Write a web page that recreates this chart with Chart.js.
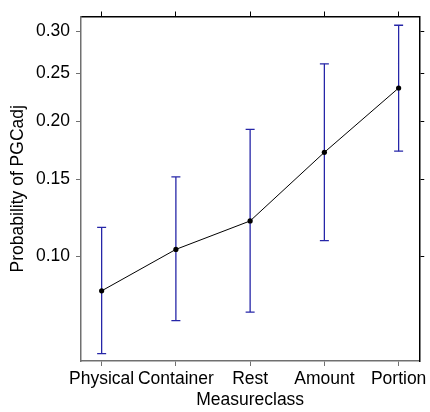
<!DOCTYPE html>
<html>
<head>
<meta charset="utf-8">
<script src="https://cdn.jsdelivr.net/npm/chart.js"></script>
<style>
  html, body { margin: 0; padding: 0; background: #fff; }
  #wrap { width: 430px; height: 412px; }
</style>
</head>
<body>
<div id="wrap"><canvas id="effectChart" width="430" height="412"></canvas></div>
<script>
// data (probabilities, logit scale)
const categories = ['Physical', 'Container', 'Rest', 'Amount', 'Portion'];
const fitValues = [0.083, 0.104, 0.121, 0.172, 0.234];
const lowerValues = [0.0585, 0.0704, 0.0738, 0.109, 0.173];
const upperValues = [0.117, 0.152, 0.1925, 0.261, 0.308];
const yTickValues = [0.10, 0.15, 0.20, 0.25, 0.30];
const yTickLabels = ['0.10', '0.15', '0.20', '0.25', '0.30'];
const yLimits = [0.0561, 0.3193];

const logit = p => Math.log(p / (1 - p));

// line through the fitted values
const fitPoints = fitValues.map((p, i) => ({ x: i, y: logit(p) }));

// error bars: two points per category, broken by a null
const barPoints = [];
categories.forEach((c, i) => {
    barPoints.push({ x: i, y: logit(lowerValues[i]) });
    barPoints.push({ x: i, y: logit(upperValues[i]) });
    barPoints.push({ x: i, y: null });
});

const font = { family: 'Liberation Sans, Arial, sans-serif', size: 17.5 };
const xMin = -0.278, xMax = 4.278;

const catTicks = scale => { scale.ticks = categories.map((c, i) => ({ value: i })); };
const probTicks = scale => { scale.ticks = yTickValues.map(v => ({ value: logit(v) })); };

new Chart(document.getElementById('effectChart'), {
    type: 'line',
    data: {
        datasets: [{
            label: 'fit',
            data: fitPoints,
            borderColor: '#000',
            backgroundColor: '#000',
            borderWidth: 1,
            pointRadius: 2.6,
            pointBorderWidth: 0,
            pointBackgroundColor: '#000',
            order: 1
        }, {
            label: 'ci',
            data: barPoints,
            borderColor: '#2626a8',
            borderWidth: 1.3,
            spanGaps: false,
            pointStyle: 'line',
            pointRadius: 4.5,
            pointBorderWidth: 1.3,
            pointBorderColor: '#2626a8',
            order: 2
        }]
    },
    options: {
        responsive: false,
        animation: false,
        events: [],
        layout: { padding: 0 },
        plugins: {
            legend: { display: false },
            tooltip: { enabled: false }
        },
        scales: {
            x: {
                type: 'linear',
                position: 'bottom',
                min: xMin,
                max: xMax,
                afterBuildTicks: catTicks,
                afterFit: s => { s.height = 51; },
                border: { display: true, color: '#707070', width: 1.5 },
                grid: { drawOnChartArea: false, drawTicks: true, tickLength: 5, color: '#707070' },
                ticks: {
                    autoSkip: false,
                    maxRotation: 0,
                    padding: 3,
                    color: '#000',
                    font: font,
                    callback: (v, i) => categories[i]
                },
                title: {
                    display: true,
                    text: 'Measureclass',
                    color: '#000',
                    font: font,
                    padding: { top: 0, bottom: 1 }
                }
            },
            xTop: {
                type: 'linear',
                position: 'top',
                min: xMin,
                max: xMax,
                afterBuildTicks: catTicks,
                afterFit: s => { s.height = 10; },
                border: { display: true, color: '#000', width: 1.5 },
                grid: { drawOnChartArea: false, drawTicks: true, tickLength: 5, color: '#000' },
                ticks: { display: false }
            },
            y: {
                type: 'linear',
                position: 'left',
                min: logit(yLimits[0]),
                max: logit(yLimits[1]),
                afterBuildTicks: probTicks,
                afterFit: s => { s.width = 81; },
                border: { display: true, color: '#707070', width: 1.5 },
                grid: { drawOnChartArea: false, drawTicks: true, tickLength: 5, color: '#707070' },
                ticks: {
                    padding: 6,
                    color: '#000',
                    font: font,
                    callback: (v, i) => yTickLabels[i]
                },
                title: {
                    display: true,
                    text: 'Probability of PGCadj',
                    color: '#000',
                    font: font,
                    padding: { top: 8, bottom: 0 }
                }
            },
            yRight: {
                type: 'linear',
                position: 'right',
                min: logit(yLimits[0]),
                max: logit(yLimits[1]),
                afterBuildTicks: probTicks,
                afterFit: s => { s.width = 10; },
                border: { display: true, color: '#000', width: 1.5 },
                grid: { drawOnChartArea: false, drawTicks: true, tickLength: 5, color: '#000' },
                ticks: { display: false }
            }
        }
    }
});
</script>
</body>
</html>
